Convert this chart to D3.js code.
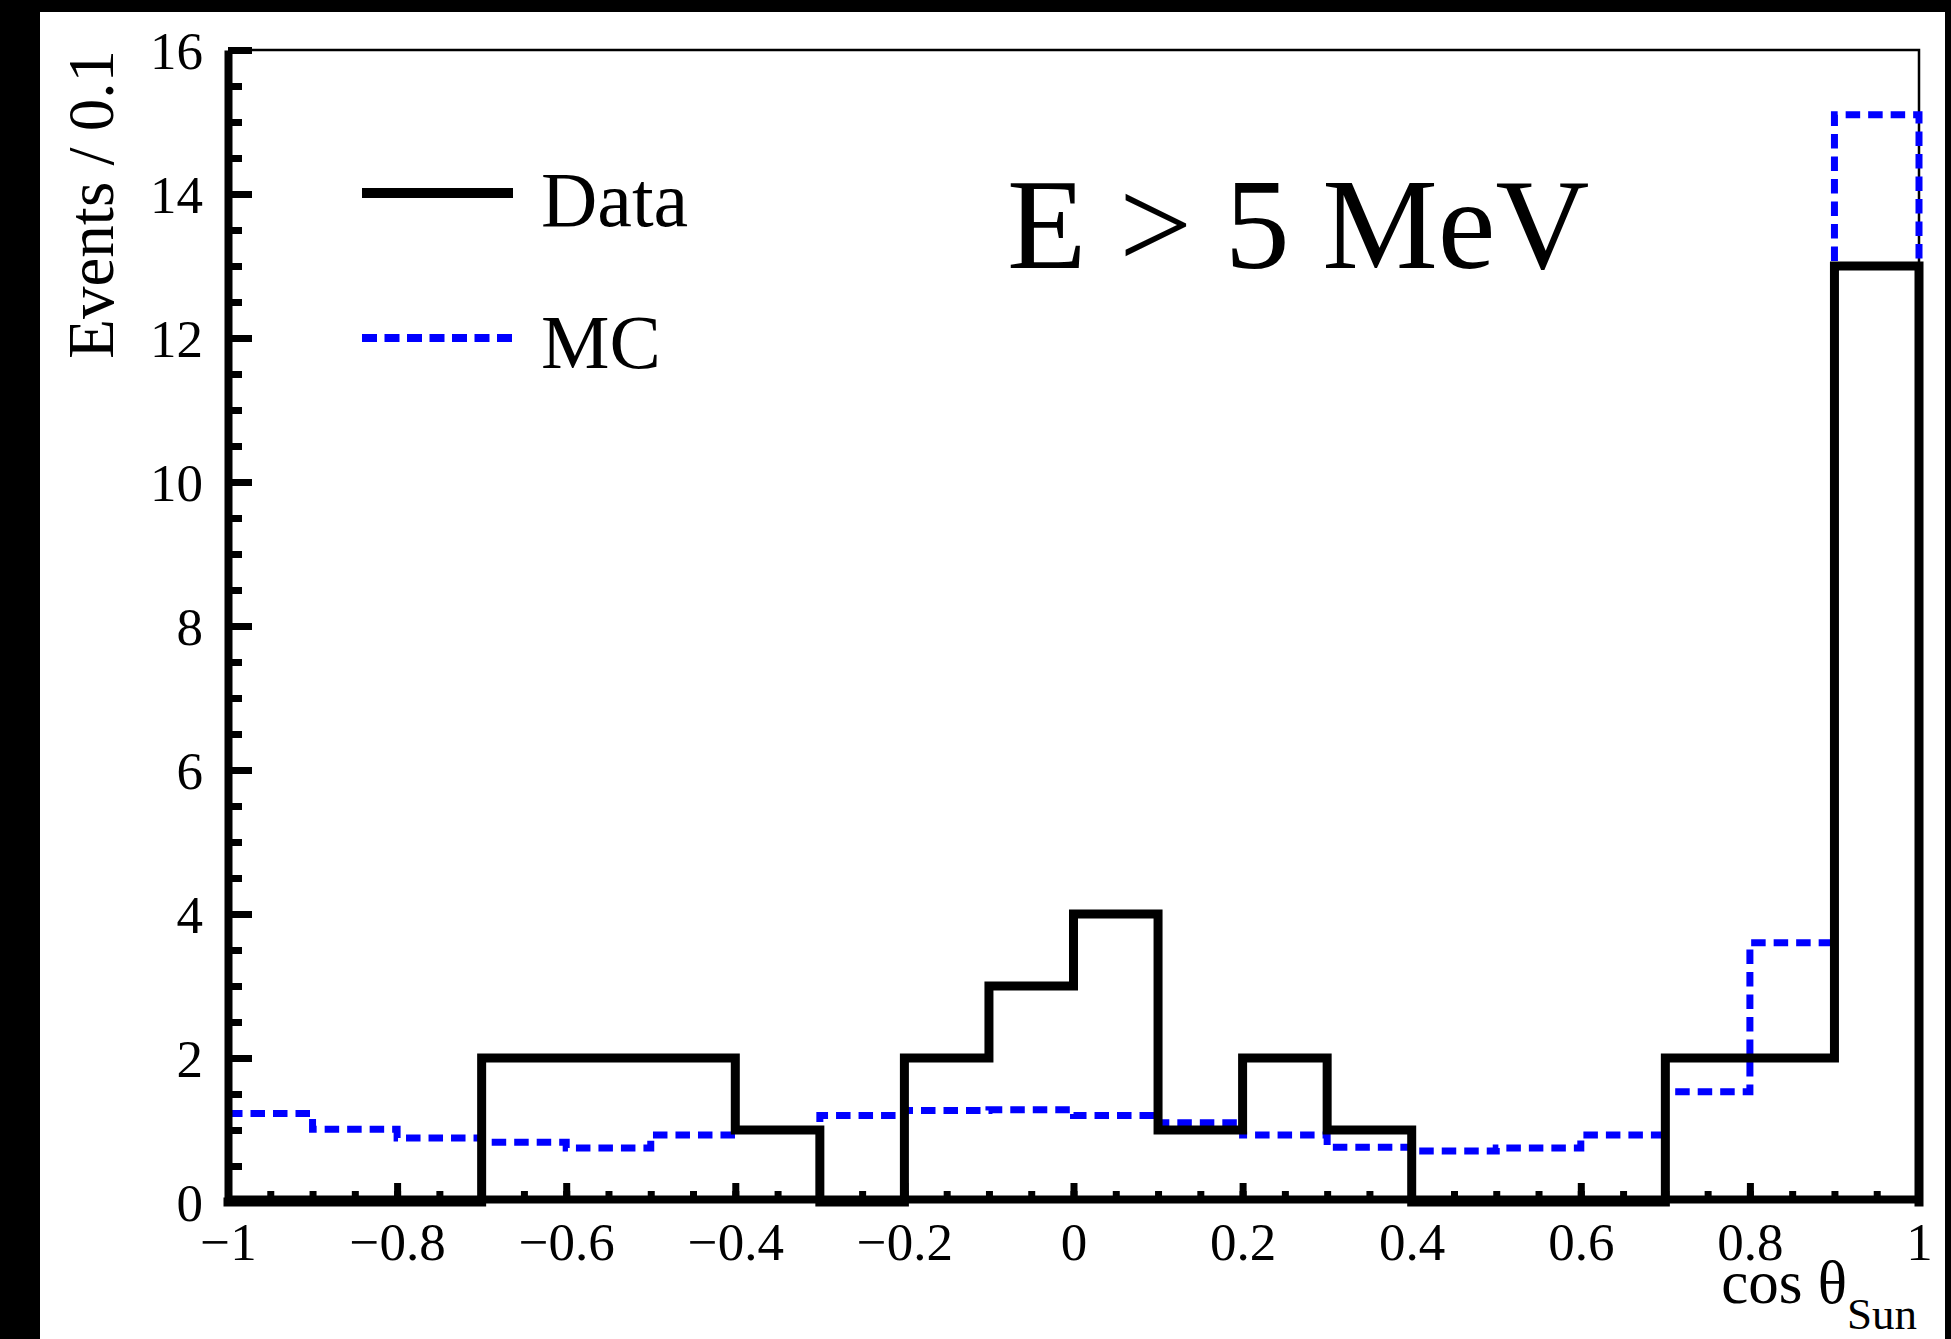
<!DOCTYPE html>
<html>
<head>
<meta charset="utf-8">
<script src="https://cdn.jsdelivr.net/npm/d3@7"></script>
<style>
  html, body { margin: 0; padding: 0; background: #000; }
  svg { display: block; }
  text { font-family: "Liberation Serif", "Times New Roman", serif; fill: #000; }
</style>
</head>
<body>
<svg id="chart" width="1951" height="1339"></svg>
<script>
// ---------------- data ----------------
const binLow = [-1.0, -0.9, -0.8, -0.7, -0.6, -0.5, -0.4, -0.3, -0.2, -0.1,
                 0.0,  0.1,  0.2,  0.3,  0.4,  0.5,  0.6,  0.7,  0.8,  0.9];
const binWidth = 0.1;
const dataCounts = [0, 0, 0, 2, 2, 2, 1, 0, 2, 3,
                    4, 1, 2, 1, 0, 0, 0, 2, 2, 13];
const mcCounts = [1.23, 1.01, 0.89, 0.83, 0.75, 0.93, 1.00, 1.20, 1.27, 1.28,
                  1.20, 1.10, 0.93, 0.76, 0.71, 0.75, 0.93, 1.53, 3.60, 15.1];
const xMajorTicks = [-1, -0.8, -0.6, -0.4, -0.2, 0, 0.2, 0.4, 0.6, 0.8, 1];
const xTickLabels = ["\u22121", "\u22120.8", "\u22120.6", "\u22120.4", "\u22120.2", "0", "0.2", "0.4", "0.6", "0.8", "1"];
const yMajorTicks = [0, 2, 4, 6, 8, 10, 12, 14, 16];
const yTickLabels = ["0", "2", "4", "6", "8", "10", "12", "14", "16"];
const seriesNames = ["Data", "MC"];
const yTitle = "Events / 0.1";
const annotation = "E > 5 MeV";

// ---------------- layout ----------------
const svg = d3.select("#chart");
const W = 1951, H = 1339;

svg.append("rect").attr("x", 0).attr("y", 0).attr("width", W).attr("height", H).attr("fill", "#000");
svg.append("rect").attr("x", 40).attr("y", 12).attr("width", 1905).attr("height", H - 12).attr("fill", "#fff");

const x = d3.scaleLinear().domain([-1, 1]).range([228, 1919]);
const y = d3.scaleLinear().domain([0, 16]).range([1202, 50]);

// frame (thin)
svg.append("path")
  .attr("d", `M${x(-1)},${y(16)}H${x(1)}V${y(0)}`)
  .attr("fill", "none").attr("stroke", "#000").attr("stroke-width", 2.5);

function histPoints(counts, startAtZero) {
  const pts = startAtZero ? [[binLow[0], 0]] : [];
  counts.forEach((v, i) => {
    pts.push([binLow[i], v]);
    pts.push([binLow[i] + binWidth, v]);
  });
  pts.push([binLow[binLow.length - 1] + binWidth, 0]);
  return pts;
}
const line = d3.line().x(d => x(d[0])).y(d => y(d[1]));

// MC (blue dashed)
svg.append("path")
  .attr("d", line(histPoints(mcCounts, false)))
  .attr("fill", "none").attr("stroke", "#0000ff").attr("stroke-width", 7)
  .attr("stroke-dasharray", "14.5,8").attr("stroke-linejoin", "miter");

// Data (black solid)
svg.append("path")
  .attr("d", line(histPoints(dataCounts, true)))
  .attr("fill", "none").attr("stroke", "#000").attr("stroke-width", 9)
  .attr("stroke-linejoin", "miter").attr("stroke-linecap", "square");

// ---------------- axes ----------------
const xAxisY = y(0) - 3;
// minor x ticks
svg.append("g").attr("transform", `translate(0,${xAxisY})`)
  .call(d3.axisBottom(x).tickValues(x.ticks(40)).tickSize(-8).tickSizeOuter(0).tickFormat(""))
  .call(g => g.select(".domain").remove())
  .call(g => g.selectAll(".tick line").attr("stroke", "#000").attr("stroke-width", 7));
// major x ticks + labels
const gx = svg.append("g").attr("transform", `translate(0,${xAxisY})`)
  .call(d3.axisBottom(x).tickValues(xMajorTicks).tickSize(-16).tickSizeOuter(0)
        .tickFormat((d, i) => xTickLabels[i]));
gx.select(".domain").attr("stroke", "#000").attr("stroke-width", 8);
gx.selectAll(".tick line").attr("stroke", "#000").attr("stroke-width", 7);
gx.selectAll(".tick text")
  .attr("y", 61).attr("dy", null)
  .attr("font-size", 53).attr("fill", "#000")
  .attr("font-family", "'Liberation Serif','Times New Roman',serif");

// minor y ticks
svg.append("g").attr("transform", `translate(${x(-1)},0)`)
  .call(d3.axisLeft(y).tickValues(y.ticks(32)).tickSize(-14).tickSizeOuter(0).tickFormat(""))
  .call(g => g.select(".domain").remove())
  .call(g => g.selectAll(".tick line").attr("stroke", "#000").attr("stroke-width", 7));
// major y ticks + labels
const gy = svg.append("g").attr("transform", `translate(${x(-1)},0)`)
  .call(d3.axisLeft(y).tickValues(yMajorTicks).tickSize(-24).tickSizeOuter(0)
        .tickFormat((d, i) => yTickLabels[i]));
gy.select(".domain").attr("stroke", "#000").attr("stroke-width", 8);
gy.selectAll(".tick line").attr("stroke", "#000").attr("stroke-width", 7);
gy.selectAll(".tick text")
  .attr("x", -25).attr("dy", "0.34em")
  .attr("text-anchor", "end")
  .attr("font-size", 53).attr("fill", "#000")
  .attr("font-family", "'Liberation Serif','Times New Roman',serif");

// ---------------- titles ----------------
svg.append("text")
  .attr("transform", `translate(113,${y(16)}) rotate(-90)`)
  .attr("text-anchor", "end")
  .attr("font-size", 65)
  .text(yTitle);

const xt = svg.append("text")
  .attr("x", 1917).attr("y", 1303)
  .attr("text-anchor", "end")
  .attr("font-size", 61);
xt.append("tspan").text("cos  \u03B8");
xt.append("tspan").attr("dy", 26).attr("font-size", 45).text("Sun");

// annotation
svg.append("text")
  .attr("x", 1007).attr("y", 268)
  .attr("font-size", 130)
  .text(annotation);

// ---------------- legend ----------------
svg.append("line")
  .attr("x1", 362).attr("x2", 513).attr("y1", 193).attr("y2", 193)
  .attr("stroke", "#000").attr("stroke-width", 10);
svg.append("text").attr("x", 541).attr("y", 226).attr("font-size", 78).text(seriesNames[0]);

svg.append("line")
  .attr("x1", 362).attr("x2", 512).attr("y1", 338).attr("y2", 338)
  .attr("stroke", "#0000ff").attr("stroke-width", 8).attr("stroke-dasharray", "15,7.5");
svg.append("text").attr("x", 541).attr("y", 368).attr("font-size", 77).text(seriesNames[1]);
</script>
</body>
</html>
